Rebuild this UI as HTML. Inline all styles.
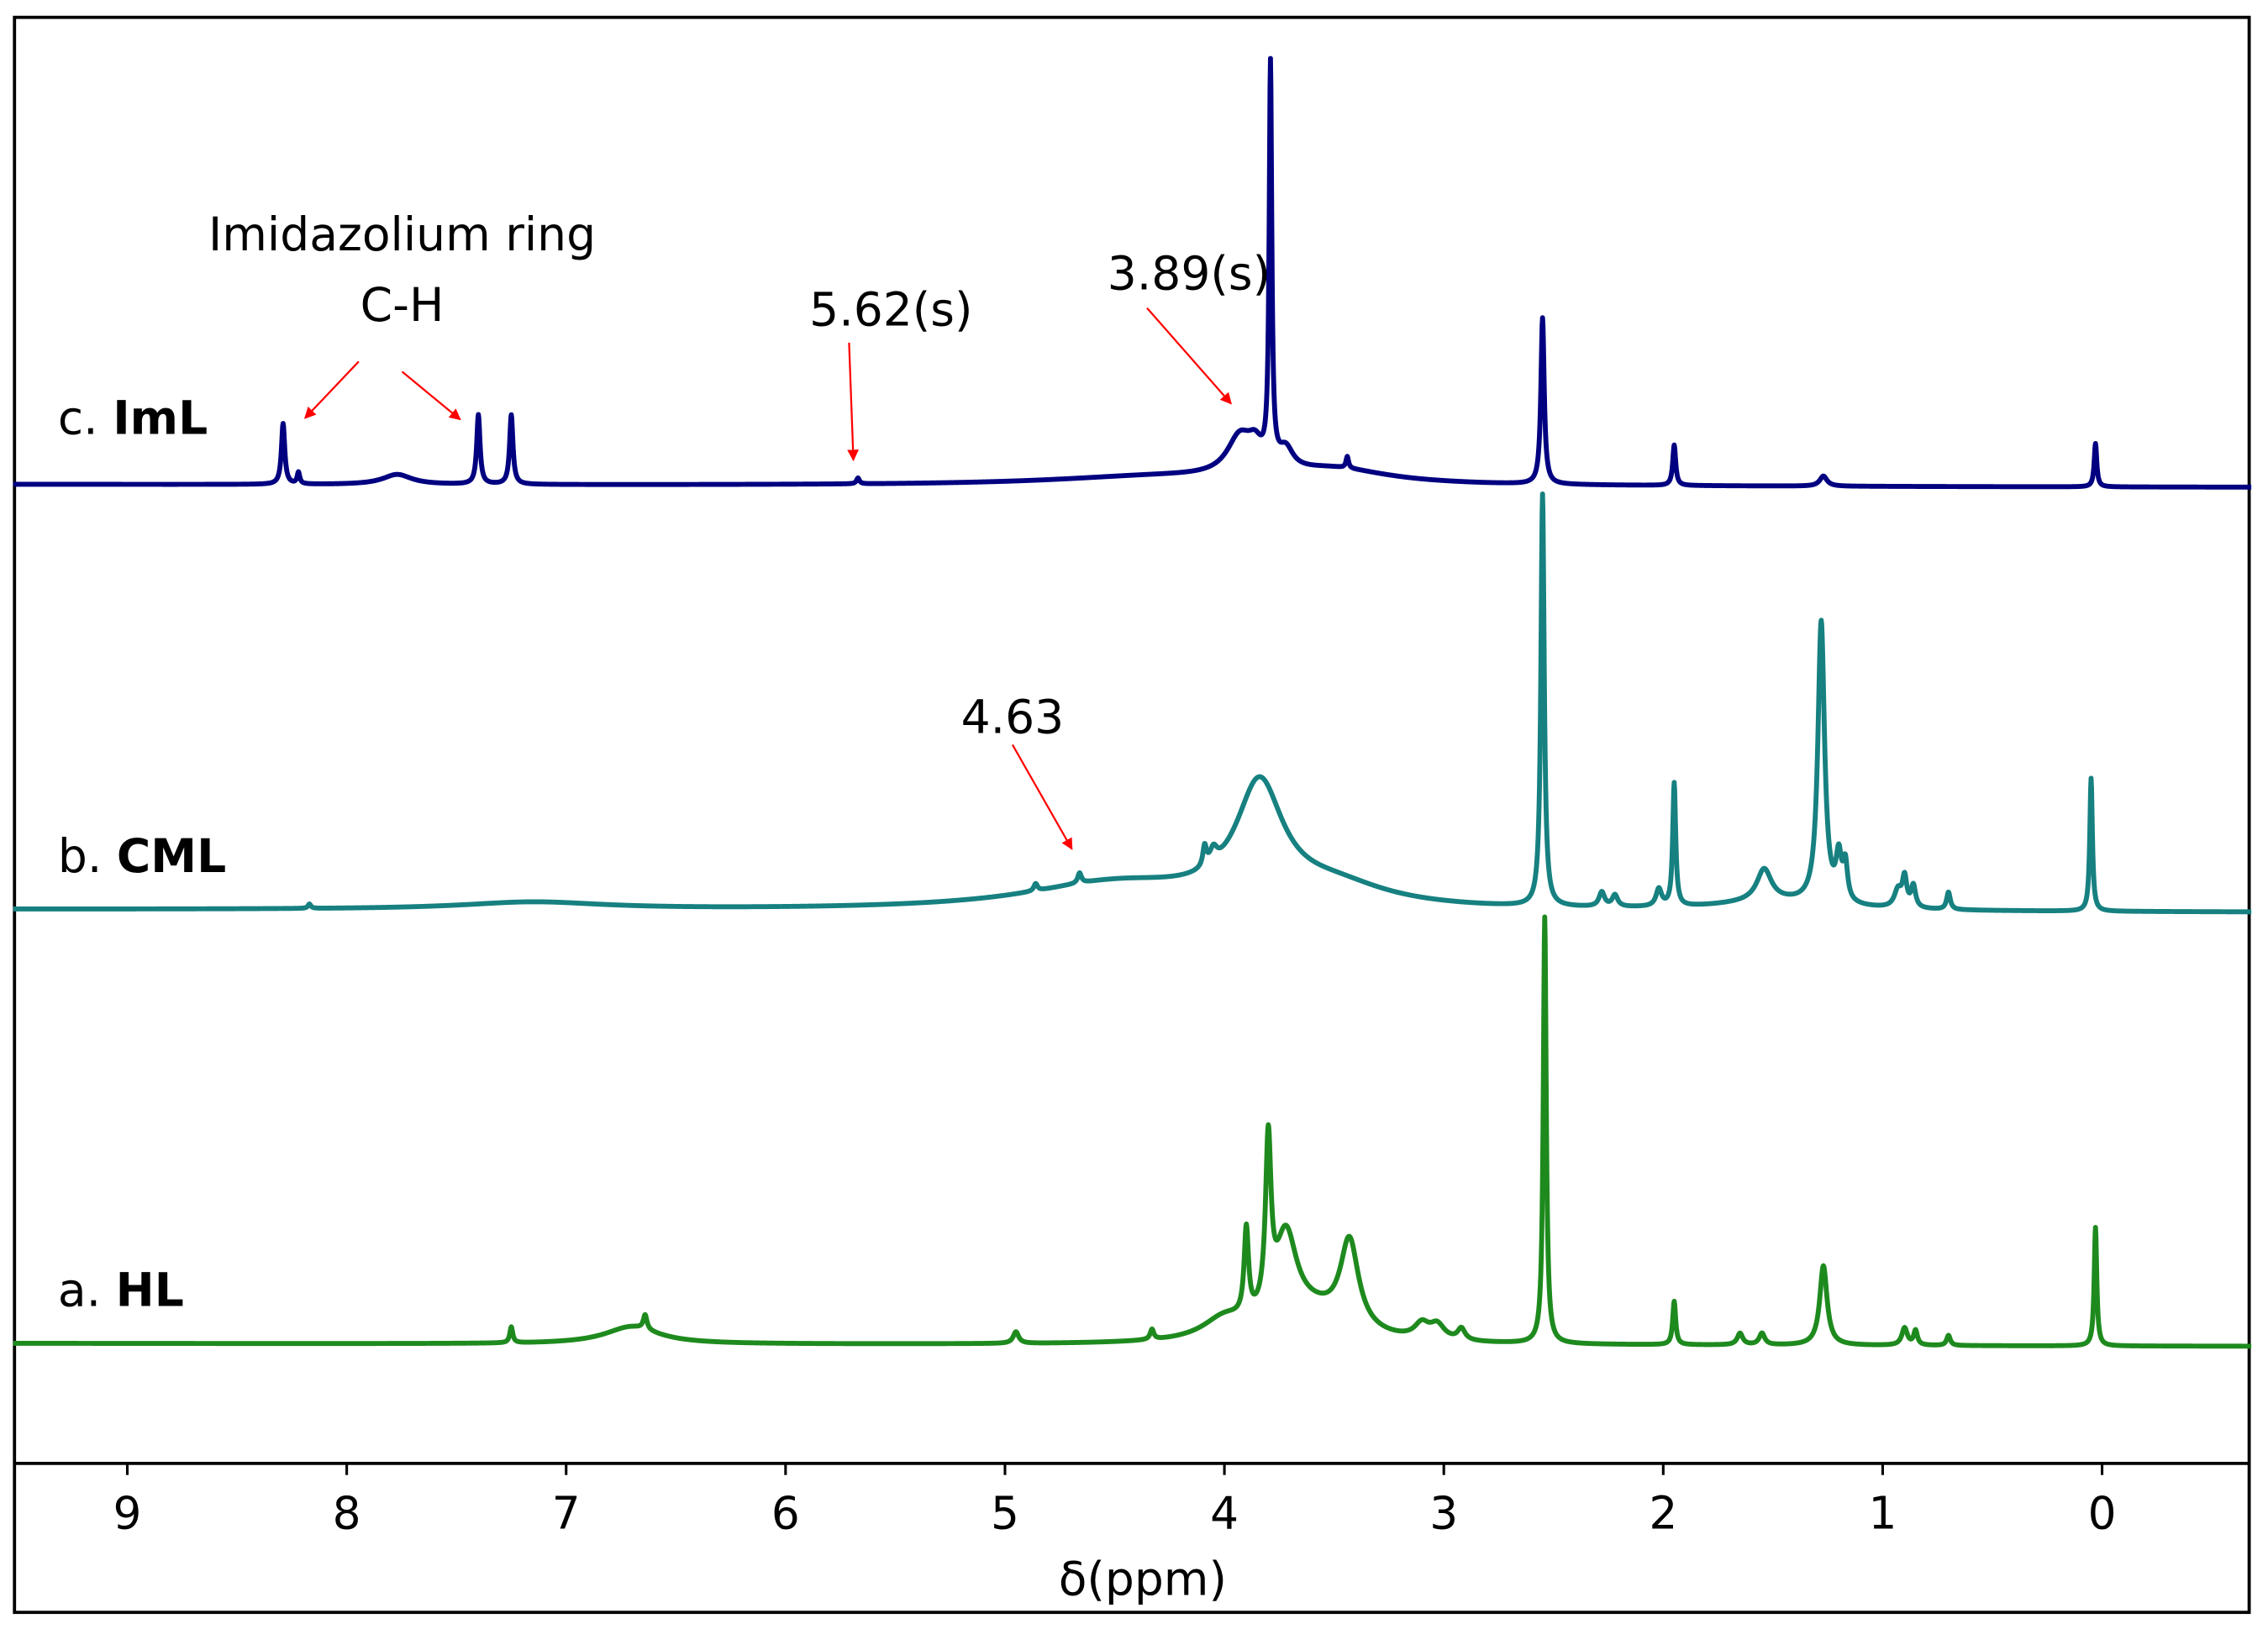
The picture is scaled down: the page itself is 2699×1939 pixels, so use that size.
<!DOCTYPE html>
<html><head><meta charset="utf-8"><style>
html,body{margin:0;padding:0;background:#fff;}
svg{display:block;font-family:"DejaVu Sans","Liberation Sans",sans-serif;}
</style></head><body>
<svg id="chart" width="2699" height="1939" viewBox="0 0 1568 1126.5" xmlns="http://www.w3.org/2000/svg">
<defs><marker id="ah" markerWidth="8" markerHeight="8" refX="7" refY="4" orient="auto" markerUnits="userSpaceOnUse"><path d="M0,0 L8,4 L0,8 z" fill="#ff0000"/></marker></defs>
<rect x="10" y="12" width="1545" height="1103" fill="none" stroke="#000" stroke-width="2.2"/>
<line x1="10" y1="1012" x2="1555" y2="1012" stroke="#000" stroke-width="2.2"/>
<g id="ticks"></g>
<text x="790" y="1103" font-size="32" text-anchor="middle">δ(ppm)</text>
<g id="traces"></g>
<text x="40" y="300" font-size="32">c. <tspan font-weight="bold">ImL</tspan></text>
<text x="40" y="603" font-size="32">b. <tspan font-weight="bold">CML</tspan></text>
<text x="40" y="903" font-size="32">a. <tspan font-weight="bold">HL</tspan></text>
<g font-size="32" text-anchor="middle">
<text x="278" y="173">Imidazolium ring</text>
<text x="278" y="222">C-H</text>
<text x="616" y="225">5.62(s)</text>
<text x="822" y="200">3.89(s)</text>
<text x="700" y="507">4.63</text>
</g>
<g stroke="#ff0000" stroke-width="1.3" marker-end="url(#ah)">
<line x1="248" y1="250" x2="211" y2="289"/>
<line x1="278" y1="257" x2="318" y2="290"/>
<line x1="587" y1="237" x2="590" y2="318"/>
<line x1="793" y1="213" x2="851" y2="279"/>
<line x1="700" y1="515" x2="741" y2="587"/>
</g>
</svg>
<script>
// x-axis ticks
const tickValues = [9,8,7,6,5,4,3,2,1,0];
const tickLabels = ["9","8","7","6","5","4","3","2","1","0"];
// ImL peaks: ppm, height, half-width
const imlPpm = [8.29,8.22,7.77,7.40,7.25,5.67,4.3,3.93,3.86,3.79,3.72,3.5,3.44,2.55,1.95,1.27,0.03];
const imlHeight = [42,8,7,48,48,4,6,26,14,275,14,10,8,115,28,7,30];
const imlWidth = [0.009,0.007,0.08,0.009,0.009,0.008,0.6,0.07,0.04,0.007,0.04,0.3,0.007,0.009,0.008,0.02,0.007];
// CML peaks
const cmlPpm = [8.17,7.15,4.5,4.86,4.66,4.09,4.05,3.84,3.5,2.55,2.28,2.22,2.02,1.95,1.54,1.5,1.28,1.2,1.17,0.93,0.9,0.86,0.7,0.05];
const cmlHeight = [3,5,18,5,7,14,10,80,14,285,10,8,12,85,22,6,195,30,25,12,20,15,12,92];
const cmlWidth = [0.008,0.4,0.5,0.01,0.01,0.01,0.02,0.13,0.3,0.009,0.015,0.015,0.015,0.008,0.04,0.3,0.018,0.015,0.012,0.02,0.012,0.012,0.01,0.007];
// HL peaks
const hlPpm = [7.25,6.7,6.64,4.95,4.33,4.0,3.9,3.8,3.72,3.6,3.43,3.1,3.03,2.92,2.54,1.95,1.65,1.55,1.27,0.9,0.85,0.7,0.03];
const hlHeight = [11,12,10,8,7,14,60,115,60,20,60,10,10,8,295,30,8,8,55,12,10,7,82];
const hlWidth = [0.008,0.15,0.01,0.015,0.01,0.12,0.012,0.015,0.06,0.2,0.05,0.04,0.04,0.02,0.008,0.008,0.015,0.015,0.02,0.015,0.01,0.01,0.007];
const seriesBase = [335, 629, 929];
const seriesColor = ["#000080","#178080","#1e8a1e"];
const seriesName = ["trace-iml","trace-cml","trace-hl"];

const X0 = 88, PPM_PX = 151.7;
function xScale(p){ return X0 + (9 - p) * PPM_PX; }
function yScale(base, h, p){ return base - h + (9.5 - p) * 0.2; }

const NS = "http://www.w3.org/2000/svg";
const tg = document.getElementById("ticks");
tickValues.forEach((v,i)=>{
  const l = document.createElementNS(NS,"line");
  
  
  l.setAttribute("x1",xScale(v)); l.setAttribute("x2",xScale(v));
  l.setAttribute("y1",1012); l.setAttribute("y2",1020);
  l.setAttribute("stroke","#000"); l.setAttribute("stroke-width","1.8");
  tg.appendChild(l);
  const t = document.createElementNS(NS,"text");
  
  
  t.setAttribute("x",xScale(v)); t.setAttribute("y",1057);
  t.setAttribute("font-size","31"); t.setAttribute("text-anchor","middle");
  t.textContent = tickLabels[i];
  tg.appendChild(t);
});

const sets = [[imlPpm,imlHeight,imlWidth],[cmlPpm,cmlHeight,cmlWidth],[hlPpm,hlHeight,hlWidth]];
const trg = document.getElementById("traces");
sets.forEach((s,k)=>{
  const [P,H,W] = s;
  let d = "";
  for (let p = 9.52; p >= -0.68; p -= 0.002) {
    let h = 0;
    for (let i=0;i<P.length;i++){ const dx=p-P[i]; h += H[i]*W[i]*W[i]/(dx*dx+W[i]*W[i]); }
    d += (d ? "L" : "M") + xScale(p).toFixed(2) + "," + yScale(seriesBase[k], h, p).toFixed(2);
  }
  const path = document.createElementNS(NS,"path");
  
  
  path.setAttribute("d", d);
  path.setAttribute("fill","none");
  path.setAttribute("stroke", seriesColor[k]);
  path.setAttribute("stroke-width","3.4");
  path.setAttribute("stroke-linejoin","round");
  trg.appendChild(path);
});
</script>
</body></html>
